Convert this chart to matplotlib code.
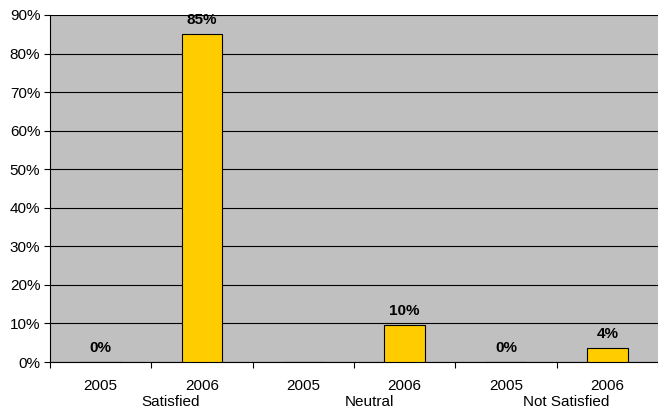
import matplotlib
matplotlib.use("Agg")
import matplotlib.pyplot as plt
import numpy as np

plt.rcParams["font.family"] = ["Liberation Sans", "DejaVu Sans"]

CATEGORIES = ["Satisfied", "Neutral", "Not Satisfied"]
YEARS = ["2005", "2006", "2005", "2006", "2005", "2006"]
VALUES = [0.0, 0.85, 0.0, 0.096, 0.0, 0.036]
LABELS = ["0%", "85%", "", "10%", "0%", "4%"]
Y_TICKS = [0.0, 0.1, 0.2, 0.3, 0.4, 0.5, 0.6, 0.7, 0.8, 0.9]

fig = plt.figure(figsize=(6.58, 4.18), dpi=100)
ax = fig.add_axes([50 / 658, 1 - 362 / 418, 1 - 50 / 658, (362 - 15) / 418])
ax.set_facecolor("#C0C0C0")

x = np.arange(len(VALUES))
bars = ax.bar(x, VALUES, 0.4, color="#FFCC00", edgecolor="black", linewidth=0.8, zorder=3)
for bar, val, lab in zip(bars, VALUES, LABELS):
    if lab:
        ax.annotate(lab, (bar.get_x() + bar.get_width() / 2, val), xytext=(0, 5),
                    textcoords="offset points", ha="center", va="bottom",
                    fontsize=11, fontweight="bold")

ax.set_xlim(-0.5, len(VALUES) - 0.5)
ax.set_ylim(0, 0.9)
ax.set_yticks(Y_TICKS)
ax.set_yticklabels([f"{int(round(t * 100))}%" for t in Y_TICKS], fontsize=11)
ax.yaxis.grid(True, color="black", linewidth=0.8, zorder=0)
ax.set_axisbelow(True)

ax.set_xticks(np.arange(len(VALUES) + 1) - 0.5)
ax.set_xticklabels([])
ax.set_xticks(x, minor=True)
ax.set_xticklabels(YEARS, minor=True, fontsize=11)
ax.tick_params(axis="x", which="minor", length=0, pad=12)
ax.tick_params(axis="x", which="major", length=4, direction="out", color="black")
ax.tick_params(axis="y", length=4, direction="out", color="black", pad=3)

# group labels under the year labels
for cx, name in zip([0.69, 2.65, 4.59], CATEGORIES):
    ax.text(cx, -0.095, name, transform=ax.get_xaxis_transform(), ha="center",
            va="top", fontsize=11)

for side in ["top", "right"]:
    ax.spines[side].set_visible(False)
ax.spines["left"].set_color("black")
ax.spines["bottom"].set_color("black")

fig.savefig("out.png", dpi=100)
